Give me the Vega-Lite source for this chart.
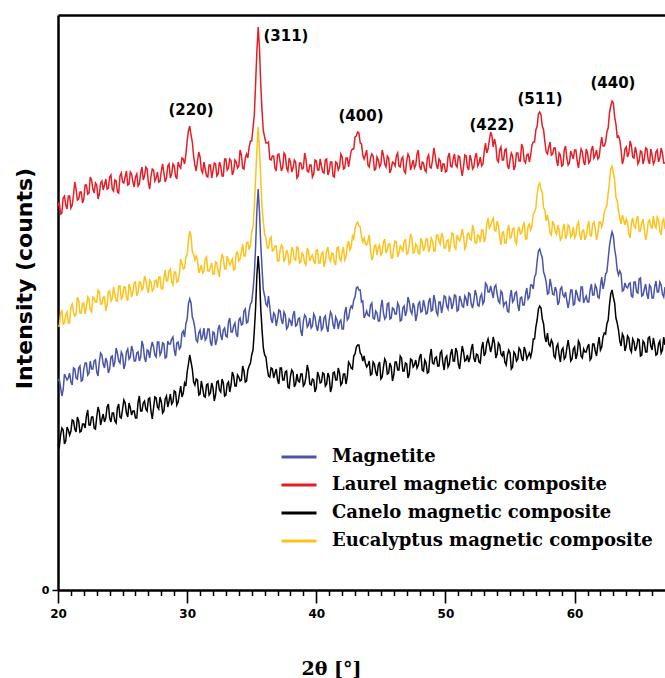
{
"$schema": "https://vega.github.io/schema/vega-lite/v6.json",
"width": 607, "height": 575,
"autosize": {"type": "none"},
"padding": {"left": 58, "top": 15, "right": 0, "bottom": 88},
"background": "white",
"config": {"view": {"stroke": null}, "axis": {"grid": false}},
"datasets": {
"xrd": [
{"x":20.0,"r":384,"e":264,"b":209,"k":145},{"x":20.2,"r":376,"e":276,"b":203,"k":155},{"x":20.4,"r":392,"e":266,"b":200,"k":160},{"x":20.6,"r":385,"e":275,"b":213,"k":149},{"x":20.8,"r":394,"e":267,"b":212,"k":160},
{"x":21.0,"r":382,"e":283,"b":208,"k":159},{"x":21.2,"r":395,"e":278,"b":222,"k":169},{"x":21.4,"r":401,"e":276,"b":212,"k":158},{"x":21.6,"r":391,"e":290,"b":222,"k":169},{"x":21.8,"r":398,"e":277,"b":209,"k":159},
{"x":22.0,"r":391,"e":287,"b":221,"k":166},{"x":22.2,"r":405,"e":283,"b":227,"k":174},{"x":22.4,"r":397,"e":291,"b":217,"k":165},{"x":22.6,"r":410,"e":278,"b":221,"k":173},{"x":22.8,"r":397,"e":292,"b":229,"k":162},
{"x":23.0,"r":405,"e":288,"b":218,"k":173},{"x":23.2,"r":396,"e":298,"b":228,"k":178},{"x":23.4,"r":409,"e":286,"b":235,"k":171},{"x":23.6,"r":405,"e":293,"b":222,"k":168},{"x":23.8,"r":401,"e":285,"b":228,"k":183},
{"x":24.0,"r":413,"e":299,"b":221,"k":172},{"x":24.2,"r":401,"e":291,"b":234,"k":177},{"x":24.4,"r":410,"e":296,"b":228,"k":169},{"x":24.6,"r":398,"e":289,"b":237,"k":182},{"x":24.8,"r":414,"e":304,"b":227,"k":173},
{"x":25.0,"r":408,"e":293,"b":235,"k":181},{"x":25.2,"r":413,"e":303,"b":226,"k":187},{"x":25.4,"r":405,"e":289,"b":241,"k":173},{"x":25.6,"r":418,"e":302,"b":233,"k":182},{"x":25.8,"r":408,"e":298,"b":239,"k":179},
{"x":26.0,"r":413,"e":308,"b":229,"k":172},{"x":26.2,"r":404,"e":297,"b":238,"k":188},{"x":26.4,"r":417,"e":307,"b":233,"k":179},{"x":26.6,"r":410,"e":302,"b":244,"k":187},{"x":26.8,"r":423,"e":310,"b":228,"k":181},
{"x":27.0,"r":407,"e":297,"b":239,"k":191},{"x":27.2,"r":414,"e":308,"b":242,"k":179},{"x":27.4,"r":420,"e":301,"b":243,"k":182},{"x":27.6,"r":412,"e":310,"b":233,"k":192},{"x":27.8,"r":408,"e":313,"b":248,"k":181},
{"x":28.0,"r":419,"e":301,"b":238,"k":188},{"x":28.2,"r":417,"e":312,"b":246,"k":179},{"x":28.4,"r":412,"e":309,"b":233,"k":194},{"x":28.6,"r":426,"e":319,"b":246,"k":189},{"x":28.8,"r":416,"e":308,"b":251,"k":186},
{"x":29.0,"r":424,"e":318,"b":240,"k":199},{"x":29.2,"r":411,"e":308,"b":247,"k":185},{"x":29.4,"r":424,"e":316,"b":241,"k":196},{"x":29.6,"r":432,"e":326,"b":257,"k":193},{"x":29.8,"r":426,"e":322,"b":253,"k":207},
{"x":29.9,"r":435,"e":333,"b":266,"k":204},{"x":30.0,"r":449,"e":335,"b":271,"k":218},{"x":30.1,"r":459,"e":350,"b":286,"k":226},{"x":30.2,"r":464,"e":359,"b":291,"k":235},{"x":30.3,"r":455,"e":354,"b":287,"k":228},
{"x":30.4,"r":448,"e":338,"b":273,"k":221},{"x":30.5,"r":434,"e":336,"b":269,"k":208},{"x":30.6,"r":425,"e":330,"b":262,"k":205},{"x":30.8,"r":429,"e":330,"b":248,"k":210},{"x":31.0,"r":433,"e":321,"b":260,"k":196},
{"x":31.2,"r":417,"e":317,"b":254,"k":202},{"x":31.4,"r":421,"e":331,"b":250,"k":193},{"x":31.6,"r":413,"e":319,"b":261,"k":206},{"x":31.8,"r":425,"e":323,"b":248,"k":197},{"x":32.0,"r":419,"e":316,"b":258,"k":202},
{"x":32.2,"r":426,"e":328,"b":245,"k":195},{"x":32.4,"r":416,"e":319,"b":261,"k":209},{"x":32.6,"r":424,"e":327,"b":255,"k":198},{"x":32.8,"r":414,"e":332,"b":260,"k":207},{"x":33.0,"r":431,"e":321,"b":254,"k":195},
{"x":33.2,"r":422,"e":329,"b":268,"k":208},{"x":33.4,"r":429,"e":328,"b":258,"k":205},{"x":33.6,"r":419,"e":320,"b":264,"k":214},{"x":33.8,"r":428,"e":337,"b":256,"k":204},{"x":34.0,"r":424,"e":329,"b":270,"k":213},
{"x":34.2,"r":435,"e":338,"b":265,"k":210},{"x":34.4,"r":421,"e":334,"b":279,"k":219},{"x":34.6,"r":436,"e":347,"b":267,"k":209},{"x":34.8,"r":443,"e":340,"b":279,"k":224},{"x":35.0,"r":449,"e":358,"b":288,"k":235},
{"x":35.1,"r":462,"e":363,"b":300,"k":240},{"x":35.2,"r":475,"e":383,"b":316,"k":259},{"x":35.3,"r":506,"e":411,"b":343,"k":282},{"x":35.4,"r":539,"e":440,"b":380,"k":315},{"x":35.5,"r":563,"e":463,"b":401,"k":334},
{"x":35.6,"r":542,"e":441,"b":378,"k":316},{"x":35.7,"r":505,"e":411,"b":346,"k":281},{"x":35.8,"r":479,"e":382,"b":321,"k":260},{"x":35.9,"r":459,"e":368,"b":300,"k":242},{"x":36.0,"r":453,"e":356,"b":294,"k":235},
{"x":36.2,"r":447,"e":342,"b":284,"k":222},{"x":36.4,"r":431,"e":351,"b":283,"k":213},{"x":36.6,"r":434,"e":339,"b":267,"k":221},{"x":36.8,"r":422,"e":344,"b":275,"k":217},{"x":37.0,"r":435,"e":329,"b":271,"k":210},
{"x":37.2,"r":428,"e":340,"b":279,"k":222},{"x":37.4,"r":423,"e":343,"b":266,"k":210},{"x":37.6,"r":435,"e":332,"b":275,"k":218},{"x":37.8,"r":419,"e":336,"b":263,"k":203},{"x":38.0,"r":428,"e":328,"b":269,"k":214},
{"x":38.2,"r":422,"e":340,"b":275,"k":218},{"x":38.4,"r":428,"e":330,"b":264,"k":206},{"x":38.6,"r":414,"e":342,"b":271,"k":209},{"x":38.8,"r":427,"e":328,"b":259,"k":216},{"x":39.0,"r":422,"e":335,"b":269,"k":204},
{"x":39.2,"r":431,"e":325,"b":273,"k":213},{"x":39.4,"r":418,"e":338,"b":265,"k":219},{"x":39.6,"r":425,"e":333,"b":262,"k":205},{"x":39.8,"r":416,"e":329,"b":276,"k":210},{"x":40.0,"r":429,"e":340,"b":264,"k":202},
{"x":40.2,"r":420,"e":327,"b":268,"k":214},{"x":40.4,"r":424,"e":336,"b":260,"k":208},{"x":40.6,"r":417,"e":323,"b":272,"k":216},{"x":40.8,"r":431,"e":339,"b":263,"k":206},{"x":41.0,"r":419,"e":332,"b":270,"k":213},
{"x":41.2,"r":428,"e":337,"b":275,"k":203},{"x":41.4,"r":413,"e":328,"b":261,"k":218},{"x":41.6,"r":427,"e":342,"b":270,"k":210},{"x":41.8,"r":423,"e":332,"b":268,"k":217},{"x":42.0,"r":433,"e":338,"b":261,"k":207},
{"x":42.2,"r":422,"e":330,"b":277,"k":216},{"x":42.4,"r":432,"e":344,"b":270,"k":213},{"x":42.6,"r":431,"e":340,"b":280,"k":226},{"x":42.8,"r":441,"e":354,"b":282,"k":221},{"x":42.9,"r":441,"e":351,"b":290,"k":234},
{"x":43.0,"r":453,"e":362,"b":293,"k":236},{"x":43.1,"r":454,"e":366,"b":302,"k":243},{"x":43.2,"r":458,"e":368,"b":303,"k":245},{"x":43.3,"r":457,"e":364,"b":300,"k":245},{"x":43.4,"r":447,"e":363,"b":300,"k":237},
{"x":43.5,"r":446,"e":353,"b":288,"k":235},{"x":43.6,"r":435,"e":348,"b":289,"k":229},{"x":43.8,"r":435,"e":346,"b":275,"k":227},{"x":44.0,"r":425,"e":349,"b":275,"k":225},{"x":44.2,"r":432,"e":340,"b":285,"k":215},
{"x":44.4,"r":434,"e":334,"b":272,"k":228},{"x":44.6,"r":421,"e":345,"b":279,"k":218},{"x":44.8,"r":430,"e":342,"b":269,"k":225},{"x":45.0,"r":426,"e":335,"b":283,"k":211},{"x":45.2,"r":435,"e":348,"b":277,"k":223},
{"x":45.4,"r":423,"e":337,"b":273,"k":228},{"x":45.6,"r":432,"e":346,"b":287,"k":217},{"x":45.8,"r":421,"e":332,"b":272,"k":223},{"x":46.0,"r":427,"e":343,"b":281,"k":215},{"x":46.2,"r":434,"e":348,"b":276,"k":228},
{"x":46.4,"r":424,"e":337,"b":284,"k":220},{"x":46.6,"r":431,"e":341,"b":270,"k":232},{"x":46.8,"r":419,"e":348,"b":284,"k":219},{"x":47.0,"r":429,"e":336,"b":279,"k":226},{"x":47.2,"r":433,"e":345,"b":288,"k":216},
{"x":47.4,"r":425,"e":352,"b":276,"k":230},{"x":47.6,"r":422,"e":338,"b":283,"k":225},{"x":47.8,"r":436,"e":344,"b":275,"k":222},{"x":48.0,"r":424,"e":336,"b":288,"k":233},{"x":48.2,"r":428,"e":348,"b":279,"k":220},
{"x":48.4,"r":420,"e":343,"b":284,"k":230},{"x":48.6,"r":432,"e":351,"b":277,"k":217},{"x":48.8,"r":423,"e":342,"b":292,"k":234},{"x":49.0,"r":430,"e":349,"b":280,"k":227},{"x":49.2,"r":435,"e":339,"b":289,"k":232},
{"x":49.4,"r":421,"e":355,"b":275,"k":224},{"x":49.6,"r":429,"e":346,"b":288,"k":237},{"x":49.8,"r":426,"e":353,"b":284,"k":227},{"x":50.0,"r":418,"e":342,"b":293,"k":232},{"x":50.2,"r":433,"e":350,"b":281,"k":223},
{"x":50.4,"r":424,"e":346,"b":291,"k":236},{"x":50.6,"r":431,"e":356,"b":286,"k":229},{"x":50.8,"r":425,"e":341,"b":294,"k":242},{"x":51.0,"r":434,"e":351,"b":280,"k":226},{"x":51.2,"r":422,"e":354,"b":290,"k":233},
{"x":51.4,"r":423,"e":354,"b":283,"k":238},{"x":51.6,"r":434,"e":344,"b":291,"k":230},{"x":51.8,"r":420,"e":357,"b":297,"k":228},{"x":52.0,"r":430,"e":350,"b":286,"k":241},{"x":52.2,"r":423,"e":360,"b":289,"k":232},
{"x":52.4,"r":437,"e":347,"b":295,"k":236},{"x":52.6,"r":427,"e":354,"b":284,"k":228},{"x":52.8,"r":424,"e":360,"b":296,"k":242},{"x":53.0,"r":438,"e":348,"b":289,"k":234},{"x":53.2,"r":437,"e":366,"b":305,"k":247},
{"x":53.4,"r":450,"e":362,"b":298,"k":245},{"x":53.6,"r":454,"e":369,"b":298,"k":244},{"x":53.8,"r":451,"e":360,"b":303,"k":247},{"x":54.0,"r":430,"e":369,"b":296,"k":236},{"x":54.2,"r":440,"e":353,"b":287,"k":245},
{"x":54.4,"r":430,"e":357,"b":297,"k":234},{"x":54.6,"r":440,"e":347,"b":287,"k":228},{"x":54.8,"r":425,"e":359,"b":279,"k":235},{"x":55.0,"r":430,"e":352,"b":293,"k":237},{"x":55.2,"r":434,"e":361,"b":288,"k":223},
{"x":55.4,"r":424,"e":349,"b":297,"k":236},{"x":55.6,"r":437,"e":359,"b":285,"k":231},{"x":55.8,"r":429,"e":356,"b":292,"k":240},{"x":56.0,"r":442,"e":364,"b":285,"k":229},{"x":56.2,"r":427,"e":351,"b":296,"k":239},
{"x":56.4,"r":436,"e":364,"b":291,"k":234},{"x":56.6,"r":435,"e":360,"b":305,"k":233},{"x":56.8,"r":448,"e":376,"b":301,"k":251},{"x":56.9,"r":448,"e":378,"b":313,"k":251},{"x":57.0,"r":460,"e":382,"b":316,"k":263},
{"x":57.1,"r":464,"e":396,"b":329,"k":270},{"x":57.2,"r":476,"e":404,"b":339,"k":281},{"x":57.3,"r":478,"e":407,"b":341,"k":284},{"x":57.4,"r":475,"e":401,"b":336,"k":282},{"x":57.5,"r":464,"e":397,"b":332,"k":271},
{"x":57.6,"r":460,"e":382,"b":318,"k":266},{"x":57.7,"r":448,"e":380,"b":314,"k":253},{"x":57.8,"r":438,"e":369,"b":308,"k":248},{"x":58.0,"r":443,"e":368,"b":297,"k":246},{"x":58.2,"r":435,"e":355,"b":304,"k":250},
{"x":58.4,"r":442,"e":366,"b":295,"k":234},{"x":58.6,"r":430,"e":356,"b":299,"k":243},{"x":58.8,"r":437,"e":360,"b":288,"k":235},{"x":59.0,"r":424,"e":352,"b":303,"k":240},{"x":59.2,"r":440,"e":366,"b":293,"k":231},
{"x":59.4,"r":432,"e":355,"b":289,"k":242},{"x":59.6,"r":427,"e":363,"b":290,"k":241},{"x":59.8,"r":435,"e":355,"b":300,"k":231},{"x":60.0,"r":440,"e":352,"b":286,"k":243},{"x":60.2,"r":429,"e":365,"b":296,"k":236},
{"x":60.4,"r":432,"e":356,"b":289,"k":246},{"x":60.6,"r":438,"e":359,"b":303,"k":232},{"x":60.8,"r":425,"e":350,"b":291,"k":238},{"x":61.0,"r":437,"e":363,"b":288,"k":243},{"x":61.2,"r":429,"e":355,"b":300,"k":230},
{"x":61.4,"r":444,"e":366,"b":295,"k":246},{"x":61.6,"r":435,"e":362,"b":305,"k":239},{"x":61.8,"r":431,"e":356,"b":293,"k":245},{"x":62.0,"r":444,"e":368,"b":304,"k":240},{"x":62.2,"r":444,"e":368,"b":301,"k":253},
{"x":62.4,"r":448,"e":382,"b":316,"k":256},{"x":62.5,"r":458,"e":384,"b":318,"k":266},{"x":62.6,"r":462,"e":397,"b":331,"k":270},{"x":62.7,"r":477,"e":407,"b":344,"k":285},{"x":62.8,"r":484,"e":421,"b":352,"k":296},
{"x":62.9,"r":489,"e":424,"b":358,"k":300},{"x":63.0,"r":487,"e":417,"b":354,"k":293},{"x":63.1,"r":473,"e":410,"b":341,"k":287},{"x":63.2,"r":466,"e":393,"b":333,"k":272},{"x":63.3,"r":453,"e":389,"b":320,"k":267},
{"x":63.4,"r":454,"e":379,"b":315,"k":260},{"x":63.6,"r":440,"e":366,"b":316,"k":244},{"x":63.8,"r":431,"e":370,"b":300,"k":253},{"x":64.0,"r":443,"e":371,"b":303,"k":244},{"x":64.2,"r":437,"e":356,"b":306,"k":252},
{"x":64.4,"r":444,"e":367,"b":294,"k":238},{"x":64.6,"r":432,"e":364,"b":308,"k":248},{"x":64.8,"r":437,"e":371,"b":298,"k":243},{"x":65.0,"r":429,"e":359,"b":311,"k":250},{"x":65.2,"r":438,"e":367,"b":294,"k":235},
{"x":65.4,"r":431,"e":360,"b":301,"k":247},{"x":65.6,"r":441,"e":356,"b":296,"k":238},{"x":65.8,"r":426,"e":370,"b":305,"k":253},{"x":66.0,"r":435,"e":362,"b":292,"k":240},{"x":66.2,"r":429,"e":365,"b":303,"k":245},
{"x":66.4,"r":440,"e":373,"b":298,"k":236},{"x":66.6,"r":432,"e":359,"b":308,"k":249},{"x":66.8,"r":437,"e":368,"b":296,"k":240},{"x":67.0,"r":427,"e":361,"b":303,"k":245},
{"x":20.1,"r":388,"e":264,"b":211,"k":143},{"x":20.3,"r":377,"e":280,"b":194,"k":162},{"x":20.5,"r":394,"e":267,"b":216,"k":146},{"x":20.7,"r":381,"e":278,"b":210,"k":163},{"x":20.9,"r":394,"e":267,"b":217,"k":155},
{"x":21.1,"r":385,"e":286,"b":205,"k":170},{"x":21.3,"r":408,"e":274,"b":221,"k":161},{"x":21.5,"r":390,"e":293,"b":211,"k":173},{"x":21.7,"r":398,"e":277,"b":224,"k":158},{"x":21.9,"r":387,"e":286,"b":210,"k":166},
{"x":22.1,"r":405,"e":276,"b":227,"k":162},{"x":22.3,"r":396,"e":293,"b":215,"k":180},{"x":22.5,"r":413,"e":280,"b":229,"k":165},{"x":22.7,"r":401,"e":293,"b":221,"k":173},{"x":22.9,"r":407,"e":288,"b":230,"k":161},
{"x":23.1,"r":391,"e":300,"b":214,"k":183},{"x":23.3,"r":407,"e":286,"b":237,"k":165},{"x":23.5,"r":400,"e":293,"b":226,"k":176},{"x":23.7,"r":411,"e":279,"b":232,"k":172},{"x":23.9,"r":402,"e":298,"b":217,"k":186},
{"x":24.1,"r":415,"e":289,"b":233,"k":168},{"x":24.3,"r":399,"e":303,"b":223,"k":177},{"x":24.5,"r":409,"e":289,"b":242,"k":167},{"x":24.7,"r":397,"e":304,"b":229,"k":186},{"x":24.9,"r":417,"e":291,"b":238,"k":172},
{"x":25.1,"r":407,"e":303,"b":221,"k":190},{"x":25.3,"r":419,"e":293,"b":238,"k":177},{"x":25.5,"r":406,"e":306,"b":231,"k":187},{"x":25.7,"r":416,"e":293,"b":244,"k":175},{"x":25.9,"r":403,"e":307,"b":229,"k":179},
{"x":26.1,"r":416,"e":294,"b":237,"k":172},{"x":26.3,"r":406,"e":308,"b":229,"k":194},{"x":26.5,"r":423,"e":300,"b":249,"k":179},{"x":26.7,"r":414,"e":314,"b":232,"k":189},{"x":26.9,"r":421,"e":302,"b":240,"k":179},
{"x":27.1,"r":401,"e":310,"b":232,"k":192},{"x":27.3,"r":421,"e":299,"b":248,"k":171},{"x":27.5,"r":409,"e":309,"b":235,"k":193},{"x":27.7,"r":418,"e":302,"b":248,"k":183},{"x":27.9,"r":409,"e":313,"b":235,"k":193},
{"x":28.1,"r":426,"e":301,"b":247,"k":177},{"x":28.3,"r":408,"e":320,"b":232,"k":191},{"x":28.5,"r":424,"e":310,"b":249,"k":183},{"x":28.7,"r":412,"e":321,"b":246,"k":196},{"x":28.9,"r":426,"e":305,"b":253,"k":188},
{"x":29.1,"r":414,"e":318,"b":234,"k":198},{"x":29.3,"r":428,"e":309,"b":248,"k":188},{"x":29.5,"r":422,"e":331,"b":243,"k":204},{"x":29.7,"r":431,"e":321,"b":259,"k":197},
{"x":30.7,"r":419,"e":334,"b":250,"k":211},{"x":30.9,"r":438,"e":317,"b":257,"k":195},{"x":31.1,"r":420,"e":325,"b":250,"k":209},{"x":31.3,"r":428,"e":319,"b":262,"k":194},{"x":31.5,"r":414,"e":333,"b":252,"k":205},
{"x":31.7,"r":425,"e":319,"b":261,"k":195},{"x":31.9,"r":412,"e":327,"b":244,"k":207},{"x":32.1,"r":427,"e":316,"b":257,"k":189},{"x":32.3,"r":414,"e":327,"b":250,"k":208},{"x":32.5,"r":428,"e":313,"b":265,"k":200},
{"x":32.7,"r":414,"e":336,"b":250,"k":211},{"x":32.9,"r":431,"e":321,"b":262,"k":194},{"x":33.1,"r":420,"e":334,"b":253,"k":206},{"x":33.3,"r":431,"e":325,"b":272,"k":198},{"x":33.5,"r":415,"e":331,"b":258,"k":218},
{"x":33.7,"r":430,"e":321,"b":267,"k":204},{"x":33.9,"r":422,"e":338,"b":253,"k":215},{"x":34.1,"r":440,"e":331,"b":272,"k":209},{"x":34.3,"r":422,"e":346,"b":266,"k":224},{"x":34.5,"r":432,"e":334,"b":281,"k":208},
{"x":34.7,"r":432,"e":348,"b":268,"k":220},{"x":34.9,"r":449,"e":345,"b":286,"k":227},
{"x":36.1,"r":447,"e":352,"b":286,"k":233},{"x":36.3,"r":448,"e":342,"b":294,"k":214},{"x":36.5,"r":430,"e":353,"b":271,"k":222},{"x":36.7,"r":434,"e":340,"b":277,"k":212},{"x":36.9,"r":419,"e":344,"b":264,"k":221},
{"x":37.1,"r":436,"e":329,"b":280,"k":206},{"x":37.3,"r":419,"e":345,"b":270,"k":222},{"x":37.5,"r":437,"e":328,"b":278,"k":210},{"x":37.7,"r":422,"e":340,"b":261,"k":219},{"x":37.9,"r":432,"e":326,"b":271,"k":202},
{"x":38.1,"r":418,"e":343,"b":264,"k":220},{"x":38.3,"r":430,"e":331,"b":279,"k":203},{"x":38.5,"r":412,"e":343,"b":265,"k":216},{"x":38.7,"r":427,"e":327,"b":272,"k":208},{"x":38.9,"r":421,"e":337,"b":254,"k":216},
{"x":39.1,"r":437,"e":327,"b":275,"k":206},{"x":39.3,"r":419,"e":342,"b":263,"k":225},{"x":39.5,"r":425,"e":329,"b":272,"k":206},{"x":39.7,"r":413,"e":335,"b":264,"k":211},{"x":39.9,"r":430,"e":326,"b":273,"k":198},
{"x":40.1,"r":420,"e":340,"b":259,"k":218},{"x":40.3,"r":431,"e":327,"b":274,"k":207},{"x":40.5,"r":418,"e":338,"b":262,"k":217},{"x":40.7,"r":430,"e":329,"b":274,"k":204},{"x":40.9,"r":415,"e":343,"b":258,"k":217},
{"x":41.1,"r":428,"e":329,"b":278,"k":198},{"x":41.3,"r":414,"e":336,"b":265,"k":217},{"x":41.5,"r":428,"e":325,"b":273,"k":210},{"x":41.7,"r":420,"e":343,"b":261,"k":222},{"x":41.9,"r":436,"e":329,"b":270,"k":205},
{"x":42.1,"r":421,"e":343,"b":261,"k":216},{"x":42.3,"r":432,"e":333,"b":283,"k":206},{"x":42.5,"r":423,"e":349,"b":272,"k":228},{"x":42.7,"r":439,"e":343,"b":284,"k":222},
{"x":43.7,"r":431,"e":352,"b":272,"k":234},{"x":43.9,"r":440,"e":345,"b":279,"k":223},{"x":44.1,"r":423,"e":355,"b":274,"k":229},{"x":44.3,"r":436,"e":330,"b":287,"k":216},{"x":44.5,"r":420,"e":344,"b":271,"k":226},
{"x":44.7,"r":433,"e":335,"b":277,"k":214},{"x":44.9,"r":423,"e":345,"b":269,"k":228},{"x":45.1,"r":440,"e":337,"b":290,"k":213},{"x":45.3,"r":426,"e":351,"b":271,"k":231},{"x":45.5,"r":434,"e":340,"b":286,"k":216},
{"x":45.7,"r":417,"e":346,"b":271,"k":227},{"x":45.9,"r":428,"e":332,"b":282,"k":209},{"x":46.1,"r":424,"e":349,"b":276,"k":228},{"x":46.3,"r":437,"e":333,"b":287,"k":220},{"x":46.5,"r":423,"e":345,"b":269,"k":234},
{"x":46.7,"r":433,"e":339,"b":282,"k":219},{"x":46.9,"r":417,"e":351,"b":274,"k":227},{"x":47.1,"r":436,"e":337,"b":293,"k":212},{"x":47.3,"r":420,"e":356,"b":279,"k":231},{"x":47.5,"r":430,"e":337,"b":287,"k":223},
{"x":47.7,"r":425,"e":346,"b":269,"k":230},{"x":47.9,"r":440,"e":337,"b":286,"k":225},{"x":48.1,"r":420,"e":352,"b":278,"k":236},{"x":48.3,"r":427,"e":339,"b":290,"k":219},{"x":48.5,"r":418,"e":351,"b":276,"k":227},
{"x":48.7,"r":435,"e":338,"b":288,"k":218},{"x":48.9,"r":422,"e":352,"b":279,"k":241},{"x":49.1,"r":442,"e":339,"b":295,"k":226},{"x":49.3,"r":425,"e":355,"b":278,"k":233},{"x":49.5,"r":431,"e":349,"b":288,"k":224},
{"x":49.7,"r":418,"e":357,"b":277,"k":239},{"x":49.9,"r":426,"e":342,"b":294,"k":220},{"x":50.1,"r":419,"e":349,"b":284,"k":234},{"x":50.3,"r":437,"e":338,"b":293,"k":226},{"x":50.5,"r":423,"e":357,"b":281,"k":241},
{"x":50.7,"r":436,"e":343,"b":295,"k":229},{"x":50.9,"r":423,"e":355,"b":279,"k":238},{"x":51.1,"r":433,"e":349,"b":294,"k":221},{"x":51.3,"r":414,"e":361,"b":284,"k":244},{"x":51.5,"r":435,"e":341,"b":294,"k":229},
{"x":51.7,"r":423,"e":356,"b":284,"k":235},{"x":51.9,"r":435,"e":351,"b":296,"k":232},{"x":52.1,"r":421,"e":365,"b":282,"k":246},{"x":52.3,"r":433,"e":347,"b":300,"k":228},{"x":52.5,"r":424,"e":355,"b":285,"k":235},
{"x":52.7,"r":433,"e":348,"b":293,"k":227},{"x":52.9,"r":426,"e":360,"b":286,"k":248},{"x":53.1,"r":447,"e":352,"b":307,"k":237},{"x":53.3,"r":441,"e":372,"b":298,"k":251},{"x":53.5,"r":458,"e":364,"b":304,"k":238},
{"x":53.7,"r":443,"e":372,"b":292,"k":253},{"x":53.9,"r":445,"e":359,"b":305,"k":232},{"x":54.1,"r":428,"e":364,"b":289,"k":247},{"x":54.3,"r":443,"e":345,"b":299,"k":236},{"x":54.5,"r":430,"e":358,"b":284,"k":239},
{"x":54.7,"r":441,"e":347,"b":288,"k":225},{"x":54.9,"r":421,"e":365,"b":278,"k":240},{"x":55.1,"r":437,"e":353,"b":300,"k":221},{"x":55.3,"r":420,"e":362,"b":290,"k":238},{"x":55.5,"r":437,"e":346,"b":298,"k":229},
{"x":55.7,"r":429,"e":363,"b":279,"k":242},{"x":55.9,"r":446,"e":357,"b":293,"k":232},{"x":56.1,"r":429,"e":368,"b":285,"k":243},{"x":56.3,"r":435,"e":351,"b":302,"k":231},{"x":56.5,"r":428,"e":366,"b":293,"k":237},
{"x":56.7,"r":445,"e":364,"b":305,"k":239},
{"x":57.9,"r":436,"e":375,"b":296,"k":257},{"x":58.1,"r":448,"e":357,"b":311,"k":244},{"x":58.3,"r":436,"e":369,"b":296,"k":247},{"x":58.5,"r":442,"e":359,"b":303,"k":232},{"x":58.7,"r":424,"e":365,"b":285,"k":246},
{"x":58.9,"r":435,"e":350,"b":301,"k":228},{"x":59.1,"r":425,"e":362,"b":295,"k":242},{"x":59.3,"r":444,"e":351,"b":298,"k":233},{"x":59.5,"r":425,"e":365,"b":282,"k":250},{"x":59.7,"r":439,"e":353,"b":300,"k":229},
{"x":59.9,"r":431,"e":363,"b":285,"k":241},{"x":60.1,"r":440,"e":355,"b":300,"k":231},{"x":60.3,"r":422,"e":368,"b":290,"k":249},{"x":60.5,"r":441,"e":350,"b":303,"k":234},{"x":60.7,"r":428,"e":360,"b":287,"k":241},
{"x":60.9,"r":441,"e":354,"b":294,"k":238},{"x":61.1,"r":427,"e":369,"b":288,"k":246},{"x":61.3,"r":440,"e":354,"b":306,"k":232},{"x":61.5,"r":432,"e":368,"b":295,"k":246},{"x":61.7,"r":440,"e":350,"b":302,"k":234},
{"x":61.9,"r":433,"e":368,"b":292,"k":253},{"x":62.1,"r":453,"e":363,"b":313,"k":243},{"x":62.3,"r":444,"e":378,"b":307,"k":257},
{"x":63.5,"r":450,"e":372,"b":319,"k":249},{"x":63.7,"r":426,"e":375,"b":299,"k":256},{"x":63.9,"r":441,"e":365,"b":307,"k":239},{"x":64.1,"r":433,"e":367,"b":302,"k":254},{"x":64.3,"r":449,"e":352,"b":307,"k":241},
{"x":64.5,"r":433,"e":372,"b":293,"k":251},{"x":64.7,"r":443,"e":362,"b":308,"k":239},{"x":64.9,"r":426,"e":374,"b":297,"k":251},{"x":65.1,"r":439,"e":359,"b":312,"k":234},{"x":65.3,"r":426,"e":371,"b":295,"k":249},
{"x":65.5,"r":442,"e":350,"b":306,"k":238},{"x":65.7,"r":430,"e":368,"b":291,"k":252},{"x":65.9,"r":441,"e":363,"b":303,"k":244},{"x":66.1,"r":426,"e":374,"b":292,"k":252},{"x":66.3,"r":438,"e":362,"b":309,"k":235},
{"x":66.5,"r":428,"e":370,"b":298,"k":246},{"x":66.7,"r":442,"e":355,"b":305,"k":237},{"x":66.9,"r":427,"e":371,"b":293,"k":253}
]
},
"resolve": {"axis": {"x": "independent"}},
"layer": [
{
"data": {"name": "xrd"},
"transform": [{"fold": ["r", "e", "b", "k"], "as": ["series", "intensity"]}],
"mark": {"type": "line", "strokeWidth": 1.5},
"encoding": {
"x": {"field": "x", "type": "quantitative",
"scale": {"domain": [20, 67], "nice": false, "zero": false},
"axis": {"orient": "bottom", "values": [20, 30, 40, 50, 60], "tickSize": 13, "tickWidth": 1.6, "tickColor": "black",
"domainColor": "black", "domainWidth": 2.5, "labelFont": "DejaVu Sans", "labelFontSize": 12, "labelFontWeight": "bold",
"labelColor": "black", "labelPadding": 5, "labelFlush": false, "labelOverlap": false, "grid": false,
"title": "2θ [°]", "titleFont": "DejaVu Serif", "titleFontSize": 19, "titleFontWeight": "bold", "titleColor": "black",
"titleX": 273, "titleY": 78, "titleBaseline": "middle", "titleAlign": "center"}},
"y": {"field": "intensity", "type": "quantitative",
"scale": {"domain": [0, 575], "nice": false},
"axis": {"values": [0], "tickSize": 6, "tickWidth": 1.5, "tickColor": "black", "domainColor": "black", "domainWidth": 2.5,
"labelFont": "DejaVu Sans", "labelFontSize": 11, "labelFontWeight": "bold", "labelColor": "black", "labelPadding": 3, "grid": false,
"title": "Intensity (counts)", "titleFont": "DejaVu Sans", "titleFontSize": 22, "titleFontWeight": "bold", "titleColor": "black",
"titleAngle": 270, "titleX": -34, "titleY": 263, "titleBaseline": "middle", "titleAlign": "center"}},
"color": {"field": "series", "type": "nominal",
"scale": {"domain": ["b", "r", "k", "e"], "range": ["#4b55a8", "#e31e26", "#000000", "#fdc21c"]},
"legend": {"title": null, "orient": "none", "legendX": 222, "legendY": 423, "symbolType": "stroke", "symbolSize": 1225,
"symbolStrokeWidth": 3, "labelFont": "DejaVu Serif", "labelFontSize": 18, "labelFontWeight": "bold", "labelColor": "black",
"labelOffset": 14, "rowPadding": -7, "padding": 0, "labelLimit": 400,
"labelExpr": "{'b': 'Magnetite', 'r': 'Laurel magnetic composite', 'k': 'Canelo magnetic composite', 'e': 'Eucalyptus magnetic composite'}[datum.label]"}}
}
},
{
"data": {"values": [
{"x": 30.3, "intensity": 480, "label": "(220)"},
{"x": 37.65, "intensity": 554, "label": "(311)"},
{"x": 43.46, "intensity": 474, "label": "(400)"}
]},
"mark": {"type": "text", "font": "DejaVu Sans", "fontSize": 15, "fontWeight": "bold", "color": "black", "align": "center", "baseline": "middle"},
"encoding": {
"x": {"field": "x", "type": "quantitative",
"axis": {"orient": "bottom", "values": [21,22,23,24,25,26,27,28,29,31,32,33,34,35,36,37,38,39,41,42,43,44,45,46,47,48,49,51,52,53,54,55,56,57,58,59,61,62,63,64,65,66],
"tickSize": 5.5, "tickWidth": 1.5, "tickColor": "black", "labels": false, "domain": false, "title": null, "grid": false}},
"y": {"field": "intensity", "type": "quantitative"},
"text": {"field": "label"}
}
},
{
"data": {"values": [
{"x": 53.6, "intensity": 465, "label": "(422)"},
{"x": 57.32, "intensity": 491, "label": "(511)"},
{"x": 62.97, "intensity": 507, "label": "(440)"}
]},
"mark": {"type": "text", "font": "DejaVu Sans", "fontSize": 15, "fontWeight": "bold", "color": "black", "align": "center", "baseline": "middle"},
"encoding": {
"x": {"field": "x", "type": "quantitative",
"axis": {"orient": "top", "domain": true, "domainWidth": 2.5, "domainColor": "black", "ticks": false, "labels": false, "title": null, "grid": false}},
"y": {"field": "intensity", "type": "quantitative"},
"text": {"field": "label"}
}
}
]
}
